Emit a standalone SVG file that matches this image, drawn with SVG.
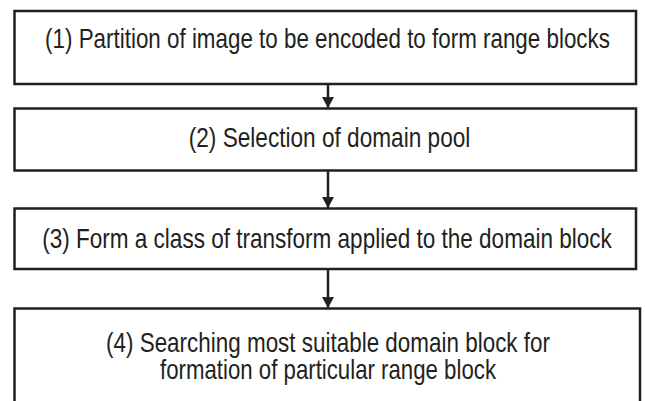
<svg xmlns="http://www.w3.org/2000/svg" width="645" height="401" viewBox="0 0 645 401">
  <style>
    .box { fill: #ffffff; stroke: #231f20; stroke-width: 2.5; }
    .lbl { font-family: "Liberation Sans", Arial, sans-serif; font-size: 27px; fill: #231f20; text-anchor: middle; }
    .link { stroke: #231f20; stroke-width: 2.5; fill: none; marker-end: url(#head); }
  </style>
  <defs>
    <!-- arrowhead drawn along +x so orient="auto" turns it to follow the line -->
    <marker id="head" viewBox="0 0 11 12" refX="11" refY="6" markerWidth="11" markerHeight="12" markerUnits="userSpaceOnUse" orient="auto">
      <path d="M0,0 L11,6 L0,12 Z" fill="#231f20"/>
    </marker>
  </defs>
  <rect width="645" height="401" fill="#ffffff"/>

  <g id="step1">
    <rect class="box" x="14.5" y="11" width="621.5" height="73"/>
    <text class="lbl" transform="translate(327.5,48) scale(0.8,1)" textLength="706" lengthAdjust="spacingAndGlyphs">(1) Partition of image to be encoded to form range blocks</text>
  </g>

  <g id="step2">
    <rect class="box" x="14.5" y="108.5" width="621.5" height="62"/>
    <text class="lbl" transform="translate(329.5,147) scale(0.8,1)" textLength="352" lengthAdjust="spacingAndGlyphs">(2) Selection of domain pool</text>
  </g>

  <g id="step3">
    <rect class="box" x="14.5" y="208.5" width="621.5" height="60.5"/>
    <text class="lbl" transform="translate(327,248) scale(0.8,1)" textLength="712" lengthAdjust="spacingAndGlyphs">(3) Form a class of transform applied to the domain block</text>
  </g>

  <g id="step4">
    <rect class="box" x="14.5" y="308.5" width="625.5" height="120"/>
    <text class="lbl" transform="translate(328,352) scale(0.8,1)" textLength="555" lengthAdjust="spacingAndGlyphs">(4) Searching most suitable domain block for</text>
    <text class="lbl" transform="translate(328,379) scale(0.8,1)" textLength="420" lengthAdjust="spacingAndGlyphs">formation of particular range block</text>
  </g>

  <g id="connectors">
    <line class="link" x1="328" y1="84" x2="328" y2="108"/>
    <line class="link" x1="328" y1="171" x2="328" y2="208"/>
    <line class="link" x1="328" y1="269" x2="328" y2="308"/>
  </g>
</svg>
